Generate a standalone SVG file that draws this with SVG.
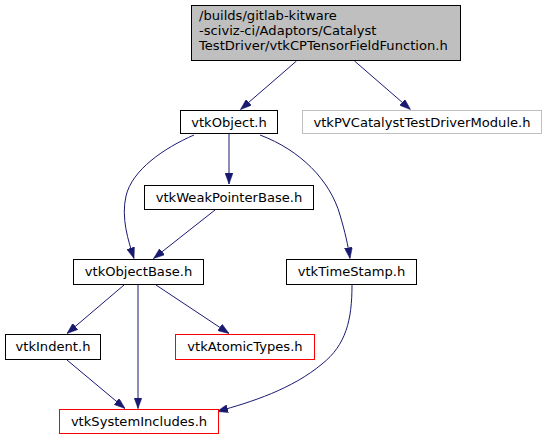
<svg xmlns="http://www.w3.org/2000/svg" width="548" height="440" viewBox="0 0 548 440">
<defs>
<style>
.n rect{fill:#fff;stroke:#000;stroke-width:1}
.n.red rect{stroke:#ff0000}
.n.grey rect{stroke:#bfbfbf}
text{font-family:"DejaVu Sans","Liberation Sans",sans-serif;font-size:13.1px;fill:#000}
.c text{text-anchor:middle}
#edges path{fill:none;stroke:#191970;stroke-width:1;marker-end:url(#ah)}
</style>
<marker id="ah" markerUnits="userSpaceOnUse" markerWidth="11" markerHeight="8" refX="11" refY="4" orient="auto">
<path d="M0,0 L11,4 L0,8 z" fill="#191970" stroke="#191970" stroke-width="0.5"/>
</marker>
</defs>
<rect width="548" height="440" fill="#fff"/>
<g id="edges">
<path d="M296.5,61 L240.5,109.5"/>
<path d="M354.5,61 L410.5,109.5"/>
<path d="M229,134 L229,184"/>
<path d="M194,135 C164,148 132,170 126,196 C121,218 128,240 134,258.5"/>
<path d="M260,135 C300,150 330,180 340,215 C345,232 348,245 350,258.5"/>
<path d="M215,210 L153.5,258.5"/>
<path d="M124,285 L67,333.5"/>
<path d="M138,285 L138,408.5"/>
<path d="M156,285 L229,333.5"/>
<path d="M67,360 L125,408.5"/>
<path d="M352,285 C352,320 346,345 322,364 C292,389 252,402 217,411.5"/>
</g>
<g id="root" class="n">
<rect x="191.5" y="5.5" width="269" height="55" style="fill:#bfbfbf"/>
<text x="199" y="20">/builds/gitlab-kitware</text>
<text x="199" y="35">-sciviz-ci/Adaptors/Catalyst</text>
<text x="199" y="50">TestDriver/vtkCPTensorFieldFunction.h</text>
</g>
<g id="vtkObject" class="n c">
<rect x="180.5" y="110.5" width="97" height="23"/>
<text x="229" y="126.5">vtkObject.h</text>
</g>
<g id="vtkPVCatalystTestDriverModule" class="n c grey">
<rect x="302.5" y="110.5" width="239" height="23"/>
<text x="422" y="126.5">vtkPVCatalystTestDriverModule.h</text>
</g>
<g id="vtkWeakPointerBase" class="n c">
<rect x="144.5" y="185.5" width="169" height="24"/>
<text x="229" y="201.5">vtkWeakPointerBase.h</text>
</g>
<g id="vtkObjectBase" class="n c">
<rect x="73.5" y="259.5" width="130" height="25"/>
<text x="138.5" y="276">vtkObjectBase.h</text>
</g>
<g id="vtkTimeStamp" class="n c">
<rect x="286.5" y="259.5" width="130" height="25"/>
<text x="351.5" y="276">vtkTimeStamp.h</text>
</g>
<g id="vtkIndent" class="n c">
<rect x="5.5" y="334.5" width="95" height="25"/>
<text x="53" y="351">vtkIndent.h</text>
</g>
<g id="vtkAtomicTypes" class="n c red">
<rect x="175.5" y="334.5" width="139" height="25"/>
<text x="245" y="351">vtkAtomicTypes.h</text>
</g>
<g id="vtkSystemIncludes" class="n c red">
<rect x="59.5" y="409.5" width="159" height="24"/>
<text x="139" y="426">vtkSystemIncludes.h</text>
</g>
</svg>
